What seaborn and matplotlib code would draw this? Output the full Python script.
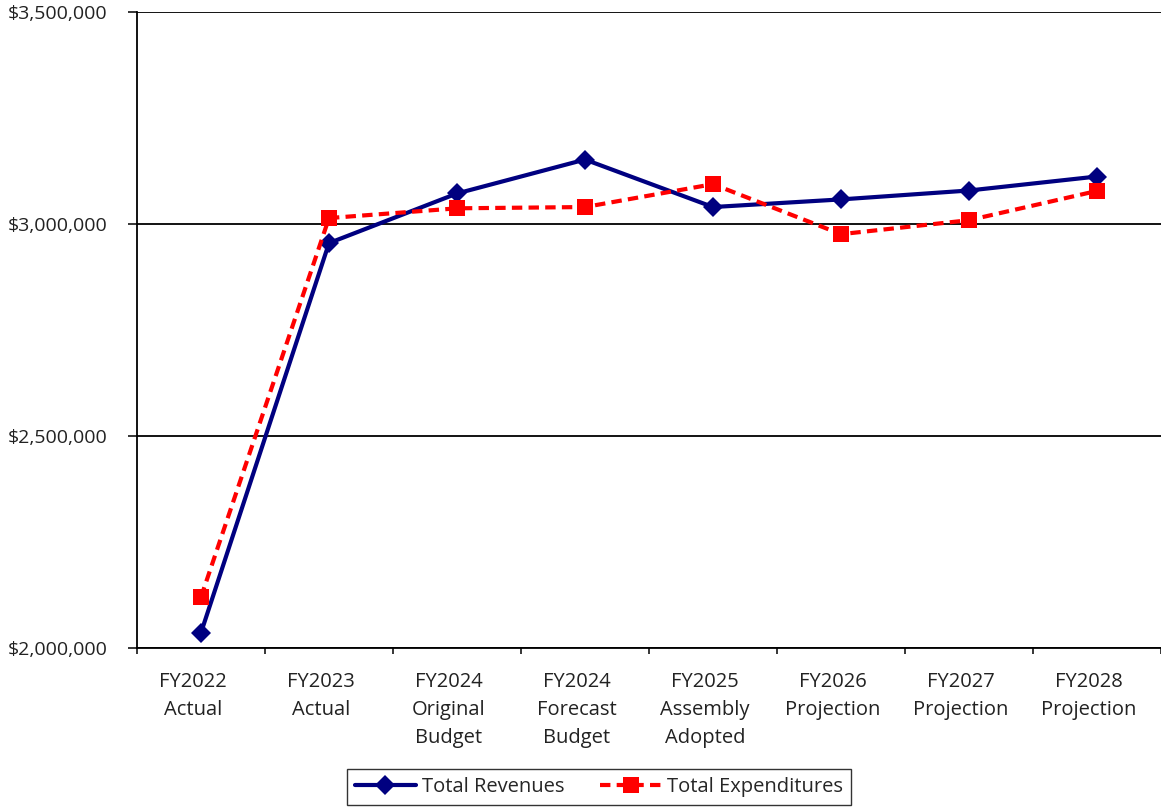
import matplotlib
matplotlib.use('Agg')
import matplotlib.pyplot as plt
import matplotlib.transforms as mtransforms
from matplotlib.ticker import FuncFormatter, FixedLocator
import pandas as pd
import seaborn as sns

sns.set_theme(style='white')
plt.rcParams['font.family'] = ['Open Sans', 'DejaVu Sans']

categories = ['FY2022\nActual', 'FY2023\nActual', 'FY2024\nOriginal\nBudget',
              'FY2024\nForecast\nBudget', 'FY2025\nAssembly\nAdopted',
              'FY2026\nProjection', 'FY2027\nProjection', 'FY2028\nProjection']
revenues = [2036000, 2955000, 3072000, 3152000, 3040000, 3058000, 3079000, 3112000]
expenditures = [2120000, 3014000, 3037000, 3040000, 3094000, 2976000, 3009000, 3078000]

df = pd.DataFrame({'pos': range(len(categories)),
                   'Total Revenues': revenues,
                   'Total Expenditures': expenditures})

fig = plt.figure(figsize=(11.61, 8.09), dpi=100)
ax = fig.add_axes([137 / 1161, 1 - 648 / 809, 1 - 137 / 1161, (648 - 12) / 809])

sns.lineplot(data=df, x='pos', y='Total Revenues', ax=ax, color='#000080',
             linewidth=3, marker='D', markersize=10, markeredgewidth=0,
             label='Total Revenues')
sns.lineplot(data=df, x='pos', y='Total Expenditures', ax=ax, color='#ff0000',
             linewidth=3, linestyle=(0, (2.5, 1.5)), marker='s', markersize=11,
             markeredgewidth=0, label='Total Expenditures')

ax.set_xlim(-0.5, len(categories) - 0.5)
ax.set_ylim(2000000, 3500000)
ax.set_yticks([2000000, 2500000, 3000000, 3500000])
ax.yaxis.set_major_formatter(FuncFormatter(lambda v, p: f'${v:,.0f}'))
ax.set_xticks(range(len(categories)))
ax.set_xticklabels(categories)
ax.xaxis.set_minor_locator(FixedLocator([i - 0.5 for i in range(len(categories) + 1)]))
ax.set_xlabel('')
ax.set_ylabel('')

ax.grid(axis='y', color='black', linewidth=1.3)
ax.spines['right'].set_visible(False)
ax.spines['top'].set_visible(False)
for side in ['left', 'bottom']:
    ax.spines[side].set_color('black')
    ax.spines[side].set_linewidth(1.3)

ax.tick_params(axis='x', which='major', length=0, pad=17, labelsize=14.5, colors='#222222')
ax.tick_params(axis='x', which='minor', bottom=True, length=4.5, width=1.1, color='black')
ax.tick_params(axis='y', left=True, length=6.5, width=1.1, color='black', pad=14.5,
               labelsize=14, labelcolor='#222222')
offset = mtransforms.ScaledTranslation(-8 / 100, 0, fig.dpi_scale_trans)
for lbl in ax.get_xticklabels():
    lbl.set_transform(lbl.get_transform() + offset)
    lbl.set_linespacing(1.55)

leg = ax.legend(loc='center', bbox_to_anchor=(599 / 1161, 1 - 787 / 809),
                bbox_transform=fig.transFigure, ncol=2, frameon=True, fancybox=False,
                fontsize=14.5, handlelength=3.0, handletextpad=0.3, columnspacing=1.8,
                edgecolor='black', borderpad=0.4, borderaxespad=0)
leg.get_frame().set_linewidth(1.0)

fig.savefig('out.png', dpi=100)
